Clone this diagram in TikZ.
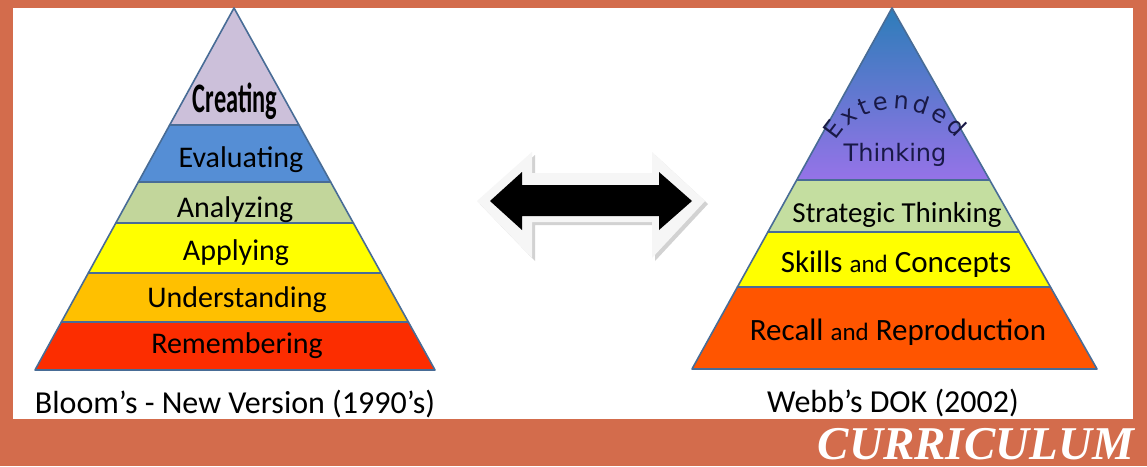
\documentclass[tikz,border=0pt]{standalone}
\usepackage{fontspec}
\setmainfont{Carlito}
\newfontfamily\bannerfont{Liberation Serif}
\newfontfamily\roundfont{DejaVu Sans}
\usepackage{tikz}
\usetikzlibrary{calc}
\usetikzlibrary{decorations.text}
\usetikzlibrary{positioning}

\definecolor{slideorange}{RGB}{211,108,76}
\definecolor{pyredge}{RGB}{72,108,150}
\definecolor{lvlcreate}{RGB}{204,192,218}
\definecolor{lvleval}{RGB}{85,142,213}
\definecolor{lvlanalyze}{RGB}{194,214,155}
\definecolor{lvlapply}{RGB}{255,255,0}
\definecolor{lvlunder}{RGB}{255,192,0}
\definecolor{lvlremember}{RGB}{252,45,0}
\definecolor{dokteal}{RGB}{45,125,185}
\definecolor{dokblue}{RGB}{75,115,225}
\definecolor{dokpurple}{RGB}{150,115,232}
\definecolor{dokgreen}{RGB}{196,222,160}
\definecolor{dokred}{RGB}{255,85,0}
\definecolor{doktext}{RGB}{25,25,70}

\tikzset{
        level label/.style={anchor=base, inner sep=0pt, font=\fontsize{30}{30}\selectfont},
        dok label/.style={anchor=base, inner sep=0pt, font=\fontsize{31}{31}\selectfont},
        caption label/.style={anchor=base, inner sep=0pt, font=\fontsize{32}{32}\selectfont},
        pyramid edge/.style={draw=pyredge, line width=1.6pt, line join=round},
}

% one band of a pyramid: name, from, to, colour
\newcommand{\band}[4]{%
  \filldraw[pyramid edge, fill=#4] ($(#1-top)!#2!(#1-left)$) -- ($(#1-top)!#3!(#1-left)$)
    -- ($(#1-top)!#3!(#1-right)$) -- ($(#1-top)!#2!(#1-right)$) -- cycle;
}
\newcommand{\smalland}{{\fontsize{25}{25}\selectfont and}}

\begin{document}
\begin{tikzpicture}[x=1pt, y=-1pt]
      % slide
      \fill[slideorange] (0,0) rectangle (1147,466);
      \fill[white] (13,8) rectangle (1133,419);
      \useasboundingbox (0,0) rectangle (1147,466);

      % BLOOM PYRAMID
      \coordinate (bloom-top) at (234,8);
      \coordinate (bloom-left) at (35,370);
      \coordinate (bloom-right) at (435,370);
      \band{bloom}{0}{0.3232}{lvlcreate}
      \band{bloom}{0.3232}{0.4807}{lvleval}
      \band{bloom}{0.4807}{0.5939}{lvlanalyze}
      \band{bloom}{0.5939}{0.7320}{lvlapply}
      \band{bloom}{0.7320}{0.8674}{lvlunder}
      \band{bloom}{0.8674}{1}{lvlremember}
      \node[level label] (creating) at (235,112) {\fontsize{42}{42}\selectfont\bfseries\scalebox{0.58}[1]{Creating}};
      \node[level label] (evaluating) at (241,167) {Evaluating};
      \node[level label] (analyzing) at (235,217) {Analyzing};
      \node[level label] (applying) at (236,260) {Applying};
      \node[level label] (understanding) at (237,307) {Understanding};
      \node[level label] (remembering) at (237,353) {Remembering};
      \node[caption label] (bloomcap) at (235,413) {Bloom's - New Version (1990's)};

      % DOUBLE ARROW
      \coordinate (swap) at (591,201);
      \fill[gray!35] (480,204) -- (535,155) -- (535,176) -- (655,176) -- (655,155) -- (708,204)
        -- (655,261) -- (655,225) -- (535,225) -- (535,261) -- cycle;
      \fill[gray!7] (477,201) -- (532,152) -- (532,173) -- (652,173) -- (652,152) -- (705,201)
        -- (652,258) -- (652,222) -- (532,222) -- (532,258) -- cycle;
      \fill[black] (490,201) -- (522,172) -- (522,185) -- (659,185) -- (659,172) -- (692,201)
        -- (659,230) -- (659,216) -- (522,216) -- (522,230) -- cycle;

      % WEBB PYRAMID
      \coordinate (webb-top) at (892,8);
      \coordinate (webb-left) at (692,369);
      \coordinate (webb-right) at (1097,369);
      \shade[top color=dokteal, middle color=dokblue, bottom color=dokpurple]
        (webb-top) -- ($(webb-top)!0.4765!(webb-left)$) -- ($(webb-top)!0.4765!(webb-right)$) -- cycle;
      \draw[pyramid edge] (webb-top) -- ($(webb-top)!0.4765!(webb-left)$) -- ($(webb-top)!0.4765!(webb-right)$) -- cycle;
      \band{webb}{0.4765}{0.6205}{dokgreen}
      \band{webb}{0.6205}{0.7729}{lvlapply}
      \band{webb}{0.7729}{1}{dokred}
      \path[decorate, decoration={text along path, text align={fit to path},
        text={|\roundfont\fontsize{24}{24}\selectfont\color{doktext}|Extended}}]
        (836,141) .. controls (860,100) and (922,98) .. (956,138);
      \node[anchor=base, inner sep=0pt, text=doktext, font=\roundfont\fontsize{24}{24}\selectfont] (thinking) at (895,161) {Thinking};
      \node[dok label, font=\fontsize{29}{29}\selectfont] (strategic) at (897,222) {Strategic Thinking};
      \node[dok label] (skills) at (896,272) {Skills \smalland{} Concepts};
      \node[dok label] (recall) at (898,340) {Recall \smalland{} Reproduction};
      \node[caption label] (webbcap) at (893,412) {Webb's DOK (2002)};

      % banner
      \node[anchor=base east, inner sep=0pt, text=white, font=\bannerfont\bfseries\itshape\fontsize{47}{47}\selectfont] (banner) at (1134,459) {CURRICULUM};
\end{tikzpicture}
\end{document}
